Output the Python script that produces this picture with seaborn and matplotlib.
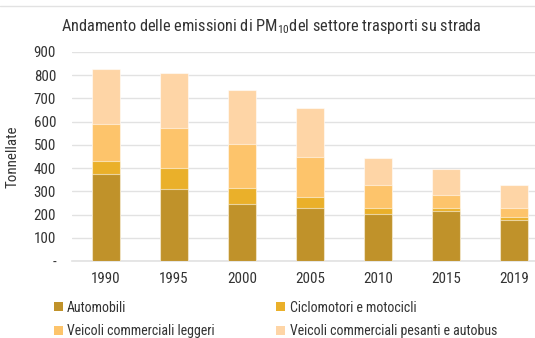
import matplotlib
matplotlib.use("Agg")
import matplotlib.pyplot as plt
from matplotlib.patches import Patch
from matplotlib.lines import Line2D
import pandas as pd
import seaborn as sns

# PM10 emissions from road transport, tonnes per year and vehicle class
years = ["1990", "1995", "2000", "2005", "2010", "2015", "2019"]
automobili = [373, 311, 247, 229, 204, 215, 176]
ciclomotori = [58, 88, 68, 46, 23, 12, 12]
commerciali_leggeri = [160, 174, 187, 174, 100, 57, 40]
pesanti_autobus = [235, 238, 236, 209, 118, 113, 101]

series_names = [
    "Automobili",
    "Ciclomotori e motocicli",
    "Veicoli commerciali leggeri",
    "Veicoli commerciali pesanti e autobus",
]
colors = ["#C0922A", "#EAB02A", "#FDC46B", "#FED5A6"]
yticks = [0, 100, 200, 300, 400, 500, 600, 700, 800, 900]
ytick_labels = ["-", "100", "200", "300", "400", "500", "600", "700", "800", "900"]

sns.set_theme(style="white")
plt.rcParams["font.family"] = ["Roboto Condensed", "Archivo Narrow", "Roboto", "DejaVu Sans"]
text_color = "#333333"

df = pd.DataFrame({
    "anno": years,
    series_names[0]: automobili,
    series_names[1]: ciclomotori,
    series_names[2]: commerciali_leggeri,
    series_names[3]: pesanti_autobus,
})
cum = df[series_names].cumsum(axis=1).assign(anno=df["anno"])

fig = plt.figure(figsize=(5.35, 3.38), dpi=100)
ax = fig.add_axes([72 / 535, 1 - 261 / 338, 476 / 535, 209 / 338])

# stacked bars: draw cumulative totals from the top layer down
for name, col in reversed(list(zip(series_names, colors))):
    sns.barplot(data=cum, x="anno", y=name, color=col,
                width=0.4, order=years, ax=ax, saturation=1,
                edgecolor=(1, 1, 1, 0.55), linewidth=0.8, zorder=3)

ax.set_ylim(0, 900)
ax.set_xlim(-0.5, len(years) - 0.5)
ax.set_yticks(yticks)
ax.set_yticklabels(ytick_labels)
ax.yaxis.grid(True, color="#E2E2E2", linewidth=1.0, zorder=0)
ax.set_axisbelow(True)
for s in ["top", "right", "left"]:
    ax.spines[s].set_visible(False)
ax.spines["bottom"].set_color("#E2E2E2")
ax.spines["bottom"].set_linewidth(1.2)
ax.tick_params(axis="both", length=0, labelsize=10.8, colors=text_color)
ax.tick_params(axis="y", pad=11.5)
ax.tick_params(axis="x", pad=8)
ax.set_xlabel("")
ax.set_ylabel("Tonnellate", fontsize=10.8, color=text_color)
ax.yaxis.set_label_coords(-52 / 476, 0.5)

fig.text(271 / 535, 1 - 27 / 338,
         r"Andamento delle emissioni di PM$_{\mathregular{10}}$del settore trasporti su strada",
         ha="center", va="center", fontsize=11.8, color=text_color)

# thin rule across the top of the figure
fig.add_artist(Line2D([0, 1], [1 - 6 / 338, 1 - 6 / 338], color="#E2E2E2", linewidth=1.0,
                      transform=fig.transFigure))

handles = [Patch(facecolor=c, edgecolor="none") for c in colors]
order = [0, 2, 1, 3]
fig.legend([handles[i] for i in order], [series_names[i] for i in order],
           loc="upper left", bbox_to_anchor=(44 / 535, 1 - 291 / 338), ncol=2,
           frameon=False, fontsize=10, handlelength=0.65, handleheight=0.65,
           handletextpad=0.3, columnspacing=4.45, labelspacing=0.7, borderpad=0.2,
           labelcolor=text_color)

fig.savefig("out.png", dpi=100)
